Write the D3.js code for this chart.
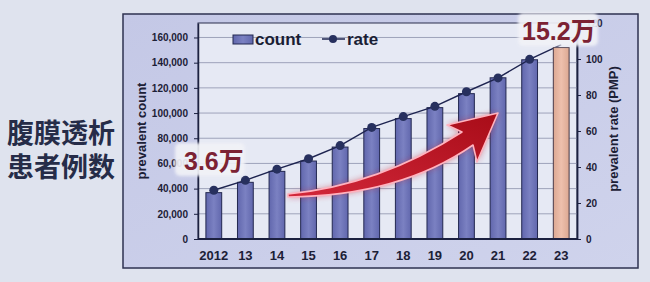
<!DOCTYPE html>
<meta charset="utf-8">
<style>
    body { margin: 0; background: #dfe3ee; }
    svg { display: block; }
    .tick text { font: bold 10px "Liberation Sans", Arial, sans-serif; fill: #1c2036; }
    .axis path, .axis line { stroke: #1c2140; }
    .xlab { font: bold 13px "Liberation Sans", Arial, sans-serif; fill: #1c2036; }
    .ttl { font: bold 13px "Liberation Sans", Arial, sans-serif; fill: #1c2036; }
    .leg { font: bold 17px "Liberation Sans", Arial, sans-serif; fill: #1a1e34; }
    .cn { font: bold 27px "Noto Sans CJK SC", sans-serif; fill: #262c48; }
    .note { font: bold 25px "Liberation Sans", "Noto Sans CJK SC", sans-serif; fill: #7c2233; }
</style>
<script src="https://d3js.org/d3.v7.min.js"></script>
<svg width="650" height="282"></svg>
<script>
    // data
    let years = ["2012", "13", "14", "15", "16", "17", "18", "19", "20", "21", "22", "23"];
    let counts = [36800, 45000, 53700, 61900, 73000, 87700, 95600, 104300, 115400, 128000, 142300, 152000];
    let rates = [27.1, 32.6, 38.8, 44.6, 51.9, 62.0, 68.0, 73.7, 81.8, 89.5, 99.8, 108];
    let countTicks = [0, 20000, 40000, 60000, 80000, 100000, 120000, 140000, 160000];
    let rateTicks = [0, 20, 40, 60, 80, 100, 120];
    let highlight = "23";

    let svg = d3.select("svg");
    let pLeft = 198, pRight = 577, pTop = 23, pBottom = 239;

    let x = d3.scaleBand().domain(years).range([pLeft, pRight]).paddingInner(0.5).paddingOuter(0.25);
    let yL = d3.scaleLinear().domain([0, 171500]).range([pBottom, pTop]);
    let yR = d3.scaleLinear().domain([0, 120]).range([pBottom, pTop]);

    let defs = svg.append("defs");
    let fg = defs.append("linearGradient").attr("id", "frameFill").attr("x1", 0).attr("y1", 0).attr("x2", 1).attr("y2", 1);
    fg.append("stop").attr("offset", 0).attr("stop-color", "#c4c8e6");
    fg.append("stop").attr("offset", 1).attr("stop-color", "#cfd3ec");
    let bg = defs.append("linearGradient").attr("id", "barFill").attr("x1", 0).attr("x2", 1);
    bg.append("stop").attr("offset", 0).attr("stop-color", "#6167ad");
    bg.append("stop").attr("offset", 0.5).attr("stop-color", "#7b81c2");
    bg.append("stop").attr("offset", 1).attr("stop-color", "#6167ad");
    let og = defs.append("linearGradient").attr("id", "orFill").attr("x1", 0).attr("x2", 1);
    og.append("stop").attr("offset", 0).attr("stop-color", "#dca892");
    og.append("stop").attr("offset", 0.5).attr("stop-color", "#eec0ad");
    og.append("stop").attr("offset", 1).attr("stop-color", "#dca892");
    let ag = defs.append("linearGradient").attr("id", "arrFill").attr("x1", 0).attr("y1", 1).attr("x2", 1).attr("y2", 0);
    ag.append("stop").attr("offset", 0).attr("stop-color", "#d2283a");
    ag.append("stop").attr("offset", 1).attr("stop-color", "#a80c18");
    defs.append("filter").attr("id", "blur").attr("x", "-20%").attr("y", "-20%").attr("width", "140%").attr("height", "140%")
        .append("feGaussianBlur").attr("stdDeviation", 3);
    defs.append("filter").attr("id", "soft").attr("x", "-20%").attr("y", "-30%").attr("width", "140%").attr("height", "160%")
        .append("feGaussianBlur").attr("stdDeviation", 1.5);

    // left side caption
    svg.append("text").attr("class", "cn").attr("x", 7).attr("y", 143).text("腹膜透析");
    svg.append("text").attr("class", "cn").attr("x", 7).attr("y", 177).text("患者例数");

    // frame and plot area
    svg.append("rect").attr("x", 123).attr("y", 14).attr("width", 515).attr("height", 254)
        .attr("fill", "url(#frameFill)").attr("stroke", "#2e3250").attr("stroke-width", 1.5);
    svg.append("rect").attr("x", pLeft).attr("y", pTop).attr("width", pRight - pLeft).attr("height", pBottom - pTop)
        .attr("fill", "#e6e9f4").attr("stroke", "#2a2e4c").attr("stroke-width", 1);

    svg.append("g").selectAll("line").data(countTicks.slice(1)).join("line")
        .attr("x1", pLeft).attr("x2", pRight)
        .attr("y1", d => yL(d)).attr("y2", d => yL(d))
        .attr("stroke", "#9ea3ba").attr("stroke-width", 1);

    // bars
    svg.append("g").selectAll("rect").data(years.filter(d => d !== highlight)).join("rect")
        .attr("x", d => x(d)).attr("width", x.bandwidth())
        .attr("y", d => yL(counts[years.indexOf(d)]))
        .attr("height", d => pBottom - yL(counts[years.indexOf(d)]))
        .attr("fill", "url(#barFill)").attr("stroke", "#232850").attr("stroke-width", 1);

    // rate line
    let line = d3.line().x((d, i) => x(years[i]) + x.bandwidth() / 2).y(d => yR(d));
    svg.append("path").datum(rates).attr("d", line)
        .attr("fill", "none").attr("stroke", "#1e2450").attr("stroke-width", 1.4);
    svg.append("g").selectAll("circle").data(rates.slice(0, -1)).join("circle")
        .attr("cx", (d, i) => x(years[i]) + x.bandwidth() / 2).attr("cy", d => yR(d))
        .attr("r", 4.5).attr("fill", "#27305e");

    // highlighted bar on top
    let hi = years.indexOf(highlight);
    svg.append("rect").attr("x", x(highlight)).attr("width", x.bandwidth())
        .attr("y", yL(counts[hi])).attr("height", pBottom - yL(counts[hi]))
        .attr("fill", "url(#orFill)").attr("stroke", "#4a3a48").attr("stroke-width", 1);

    // axes
    let gl = svg.append("g").attr("class", "axis").attr("transform", `translate(${pLeft},0)`)
        .call(d3.axisLeft(yL).tickValues(countTicks).tickSize(4).tickSizeOuter(0).tickFormat(d3.format(",")));
    gl.select(".domain").attr("stroke-width", 1.5);
    gl.selectAll(".tick text").attr("x", -10);
    let gr = svg.append("g").attr("class", "axis").attr("transform", `translate(${pRight},0)`)
        .call(d3.axisRight(yR).tickValues(rateTicks).tickSize(4).tickSizeOuter(0));
    gr.select(".domain").attr("stroke-width", 1.8);
    gr.selectAll(".tick text").attr("x", 9);
    svg.append("line").attr("x1", pLeft).attr("x2", pRight).attr("y1", pBottom).attr("y2", pBottom)
        .attr("stroke", "#1c2140").attr("stroke-width", 2);

    svg.append("g").selectAll("text").data(years).join("text").attr("class", "xlab")
        .attr("x", d => x(d) + x.bandwidth() / 2).attr("y", 260).attr("text-anchor", "middle").text(d => d);

    svg.append("text").attr("class", "ttl").attr("transform", "translate(146,131) rotate(-90)")
        .attr("text-anchor", "middle").text("prevalent count");
    svg.append("text").attr("class", "ttl").attr("transform", "translate(618,129) rotate(-90)")
        .attr("text-anchor", "middle").text("prevalent rate (PMP)");

    // legend
    svg.append("rect").attr("x", 233).attr("y", 35).attr("width", 20).attr("height", 9)
        .attr("fill", "url(#barFill)").attr("stroke", "#232850");
    svg.append("text").attr("class", "leg").attr("x", 255).attr("y", 45).text("count");
    svg.append("line").attr("x1", 322).attr("x2", 345).attr("y1", 39).attr("y2", 39)
        .attr("stroke", "#1e2450").attr("stroke-width", 1.5);
    svg.append("circle").attr("cx", 333).attr("cy", 39).attr("r", 4).attr("fill", "#27305e");
    svg.append("text").attr("class", "leg").attr("x", 347).attr("y", 45).text("rate");

    // arrow
    let arrow = "M288,194 Q380,185 462,132 L447,125 L498,113 L477,162 L473,145 Q400,196 288,197 Z";
    svg.append("path").attr("d", arrow).attr("fill", "#c0202e").attr("opacity", 0.55).attr("filter", "url(#blur)");
    svg.append("path").attr("d", arrow).attr("fill", "url(#arrFill)")
        .attr("stroke", "#ffb3bf").attr("stroke-width", 1.6).attr("stroke-linejoin", "round");

    // value notes
    function note(x0, y0, w, h, tx, ty, txt) {
        svg.append("rect").attr("x", x0).attr("y", y0).attr("width", w).attr("height", h).attr("rx", 5)
            .attr("fill", "#f1f2f7").attr("opacity", 0.92).attr("filter", "url(#soft)");
        svg.append("text").attr("class", "note").attr("x", tx).attr("y", ty).text(txt);
    }
    note(175, 143, 70, 33, 184, 170, "3.6万");
    note(518, 13, 80, 33, 522, 40, "15.2万");
</script>
